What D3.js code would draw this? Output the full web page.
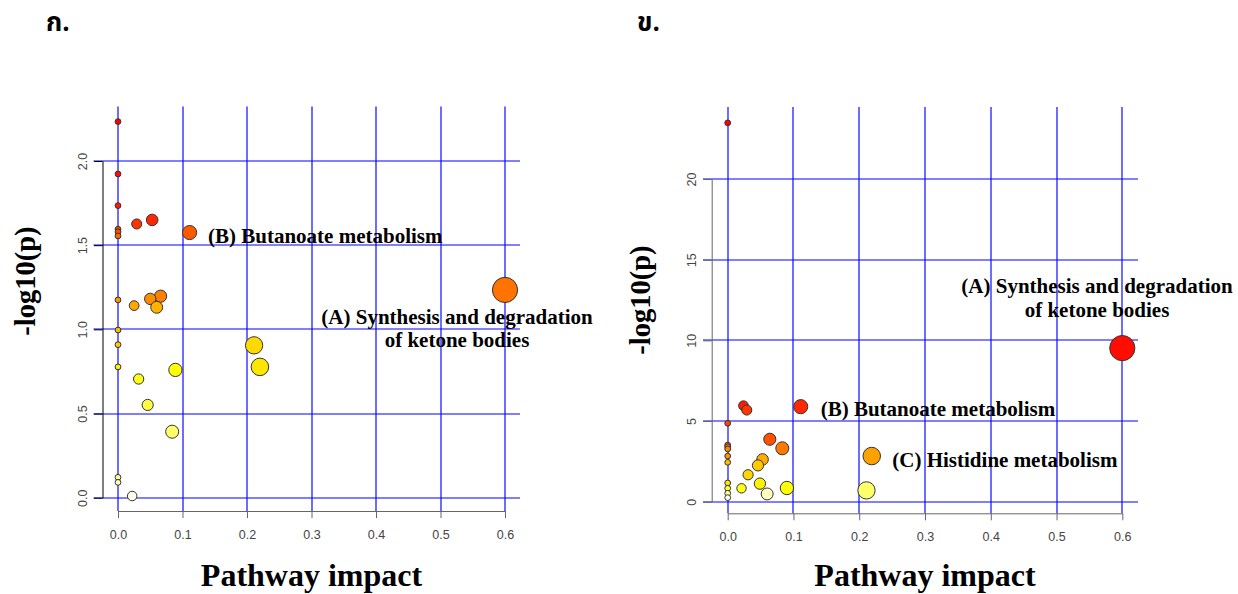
<!DOCTYPE html>
<html>
  <script src="https://d3js.org/d3.v7.min.js" type="text/JavaScript"></script>
  <style>
    body { margin: 0; background: #fff; }
    .tick text { font-family: "Liberation Sans", Arial, sans-serif; font-size: 12.5px; fill: #444; }
    .ttl { font-family: "Liberation Serif", "Times New Roman", serif; font-weight: bold; fill: #000; }
  </style>
  <body>
    <svg></svg>
    <script>
// panel ก : pathway impact vs -log10(p)
var leftImpact = [0, 0, 0, 0.053, 0.029, 0, 0, 0.111, 0, 0.6, 0.066, 0.050, 0, 0.025, 0.060,
                  0, 0, 0.211, 0.220, 0, 0.089, 0.032, 0.046, 0.084, 0, 0, 0.022];
var leftLogP   = [2.234, 1.923, 1.735, 1.650, 1.626, 1.595, 1.579, 1.575, 1.555, 1.234, 1.197, 1.181, 1.175, 1.141, 1.131,
                  0.996, 0.909, 0.905, 0.777, 0.777, 0.759, 0.705, 0.551, 0.392, 0.121, 0.091, 0.010];
var leftYTicks = [0, 0.5, 1.0, 1.5, 2.0];

// panel ข
var rightImpact = [0, 0.6, 0.024, 0.111, 0.029, 0, 0.064, 0, 0, 0.083, 0, 0, 0.219, 0.053, 0,
                   0.046, 0.031, 0, 0.049, 0.090, 0.021, 0, 0.211, 0, 0.060, 0];
var rightLogP   = [23.48, 9.52, 5.95, 5.89, 5.68, 4.86, 3.87, 3.51, 3.41, 3.31, 3.27, 2.83, 2.83, 2.62, 2.44,
                   2.25, 1.67, 1.16, 1.12, 0.85, 0.83, 0.83, 0.70, 0.52, 0.48, 0.25];
var rightYTicks = [0, 5, 10, 15, 20];

var xTicks = [0, 0.1, 0.2, 0.3, 0.4, 0.5, 0.6];

// R heat.colors(n)
function heatColors(n) {
  var j = Math.floor(n / 4), i = n - j, cols = [];
  for (var k = 0; k < i; k++) {
    var h = i > 1 ? k / (i - 1) / 6 : 0;
    cols.push(d3.rgb(255, Math.round(255 * 6 * h), 0).formatHex());
  }
  for (var k = 0; k < j; k++) {
    var s = j > 1 ? (1 - 1 / (2 * j)) + k * ((1 / (2 * j)) - (1 - 1 / (2 * j))) / (j - 1) : 0.5;
    cols.push(d3.rgb(255, 255, Math.round(255 * (1 - s))).formatHex());
  }
  return cols;
}

var svg = d3.select('svg').attr('width', 1238).attr('height', 594);

function drawPanel(p) {
  var g = svg.append('g');
  var x = d3.scaleLinear().domain([0, 0.6]).range(p.xr);
  var y = d3.scaleLinear().domain([0, p.yTicks[p.yTicks.length - 1]]).range(p.yr);
  var r = d3.scaleSqrt().domain([0, 0.6]).range([2.9, 12.6]);

  // grid (rounded so every line gets the same look)
  g.selectAll('.vg').data(xTicks).enter().append('line')
    .attr('x1', d => Math.round(x(d))).attr('x2', d => Math.round(x(d)))
    .attr('y1', p.box[1]).attr('y2', p.box[3])
    .style('stroke', '#0000ff').style('stroke-width', 1.15);
  g.selectAll('.hg').data(p.yTicks).enter().append('line')
    .attr('y1', d => Math.round(y(d))).attr('y2', d => Math.round(y(d)))
    .attr('x1', p.box[0]).attr('x2', p.box[2])
    .style('stroke', '#0000ff').style('stroke-width', 1.15);

  // axes
  var xa = g.append('g').attr('transform', `translate(0, ${p.box[3]})`)
    .call(d3.axisBottom(x).tickValues(xTicks).tickFormat(d3.format('.1f')).tickSize(7).tickSizeOuter(0));
  xa.selectAll('path, line').style('stroke', '#666');
  xa.selectAll('text').attr('y', 19);

  var ya = g.append('g').attr('transform', `translate(${p.yAxisX}, 0)`)
    .call(d3.axisLeft(y).tickValues(p.yTicks).tickFormat(p.yFmt).tickSize(8.5).tickSizeOuter(0));
  ya.selectAll('path, line').style('stroke', p.yAxisCol);
  ya.selectAll('text')
    .attr('transform', 'rotate(-90)')
    .attr('x', 0).attr('y', -16).attr('dy', 0)
    .style('text-anchor', 'middle');

  // points, sorted by -log10(p) like the original, coloured by rank
  var pts = p.impact.map((d, i) => ({ impact: d, logp: p.logp[i] }));
  pts.sort((a, b) => b.logp - a.logp);
  var cols = heatColors(pts.length);
  g.selectAll('circle').data(pts).enter().append('circle')
    .attr('cx', d => x(d.impact))
    .attr('cy', d => y(d.logp))
    .attr('r', d => r(d.impact))
    .style('fill', (d, i) => cols[i])
    .style('stroke', '#333')
    .style('stroke-width', '1px');

  // titles
  g.append('text').attr('class', 'ttl')
    .attr('x', (x(0) + x(0.6)) / 2).attr('y', 586)
    .style('font-size', '32px').style('text-anchor', 'middle')
    .text('Pathway impact');
  g.append('text').attr('class', 'ttl')
    .attr('transform', `translate(${p.yTitle[0]}, ${p.yTitle[1]}) rotate(-90)`)
    .style('font-size', '28.5px').style('text-anchor', 'middle')
    .text('-log10(p)');
  g.append('text')
    .attr('x', p.panelTitle[0]).attr('y', 31)
    .style('font-family', '"Noto Sans Thai", "Noto Serif Thai", Loma, Garuda, Norasi, "Tlwg Typo", sans-serif')
    .style('font-weight', 'bold').style('font-size', '26px')
    .text(p.name);

  p.notes.forEach(n => {
    g.append('text').attr('class', 'ttl')
      .attr('x', n[0]).attr('y', n[1])
      .style('font-size', '21px').style('text-anchor', n[2])
      .text(n[3]);
  });
}

drawPanel({
  name: 'ก.', panelTitle: [46, 31],
  impact: leftImpact, logp: leftLogP, yTicks: leftYTicks, yFmt: d3.format('.1f'),
  xr: [118, 505], yr: [497.7, 161], box: [93.5, 106.5, 520, 511],
  yAxisX: 102.5, yAxisCol: '#000', yTitle: [35, 281],
  notes: [
    [208, 243, 'start', '(B) Butanoate metabolism'],
    [457, 324, 'middle', '(A) Synthesis and degradation'],
    [457, 346.5, 'middle', 'of ketone bodies']
  ]
});

drawPanel({
  name: 'ข.', panelTitle: [637, 31],
  impact: rightImpact, logp: rightLogP, yTicks: rightYTicks, yFmt: d3.format('d'),
  xr: [727.7, 1122.3], yr: [501.7, 179], box: [703, 107, 1138, 513.3],
  yAxisX: 711.7, yAxisCol: '#666', yTitle: [650, 300],
  notes: [
    [1097, 293, 'middle', '(A) Synthesis and degradation'],
    [1097, 317, 'middle', 'of ketone bodies'],
    [820.7, 416, 'start', '(B) Butanoate metabolism'],
    [892.3, 467, 'start', '(C) Histidine metabolism']
  ]
});
    </script>
  </body>
</html>
